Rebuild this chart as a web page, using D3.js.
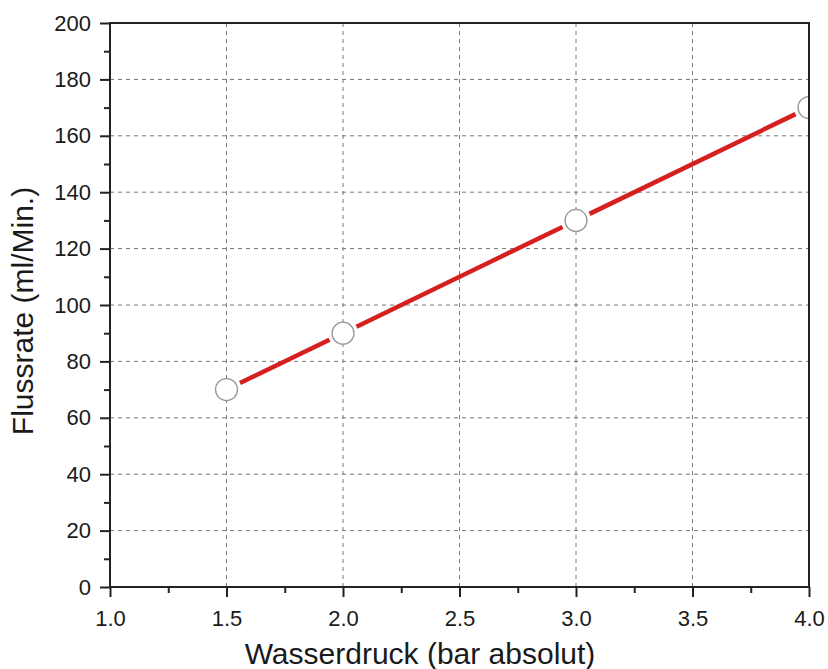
<!DOCTYPE html>
<html>
<head>
<meta charset="utf-8">
<script src="https://cdn.jsdelivr.net/npm/d3@7"></script>
<style>
  body { margin: 0; background: #fff; }
  svg text { font-family: "Liberation Sans", Arial, sans-serif; fill: #1a1a1a; }
</style>
</head>
<body>
<script>
const pressure = [1.5, 2.0, 3.0, 4.0]
const flow = [70, 90, 130, 170]
const xTicks = [1.0, 1.5, 2.0, 2.5, 3.0, 3.5, 4.0]
const yTicks = [0, 20, 40, 60, 80, 100, 120, 140, 160, 180, 200]
const xLabel = "Wasserdruck (bar absolut)"
const yLabel = "Flussrate (ml/Min.)"

const width = 828, height = 669
const margin = { left: 110, right: 19, top: 23, bottom: 82 }

const svg = d3.select("body").append("svg")
    .attr("width", width)
    .attr("height", height)

const x = d3.scaleLinear().domain([1, 4]).range([margin.left, width - margin.right])
const y = d3.scaleLinear().domain([0, 200]).range([height - margin.bottom, margin.top])

svg.append("clipPath").attr("id", "plot")
    .append("rect")
    .attr("x", x(1)).attr("y", y(200))
    .attr("width", x(4) - x(1)).attr("height", y(0) - y(200))

// grid
const grid = svg.append("g")
grid.selectAll("line.gx")
    .data(xTicks.slice(1, -1))
    .enter().append("line")
        .attr("x1", d => x(d)).attr("x2", d => x(d))
        .attr("y1", y(0)).attr("y2", y(200))
        .attr("stroke", "#777").attr("stroke-width", 1)
        .attr("stroke-dasharray", "4,4")
grid.selectAll("line.gy")
    .data(yTicks.slice(1, -1))
    .enter().append("line")
        .attr("y1", d => y(d)).attr("y2", d => y(d))
        .attr("x1", x(1)).attr("x2", x(4))
        .attr("stroke", "#777").attr("stroke-width", 1)
        .attr("stroke-dasharray", "4,4")

// red line, broken around markers
const pts = pressure.map((p, i) => [x(p), y(flow[i])])
const gap = 15
const segs = d3.pairs(pts).map(([a, b]) => {
    const dx = b[0] - a[0], dy = b[1] - a[1]
    const len = Math.hypot(dx, dy)
    const ux = dx / len, uy = dy / len
    return [[a[0] + ux * gap, a[1] + uy * gap], [b[0] - ux * gap, b[1] - uy * gap]]
})
svg.append("g").selectAll("line")
    .data(segs)
    .enter().append("line")
        .attr("x1", d => d[0][0]).attr("y1", d => d[0][1])
        .attr("x2", d => d[1][0]).attr("y2", d => d[1][1])
        .attr("stroke", "#d61f1f").attr("stroke-width", 4.5)

svg.append("g").attr("clip-path", "url(#plot)")
    .selectAll("circle")
    .data(pts)
    .enter().append("circle")
        .attr("cx", d => d[0]).attr("cy", d => d[1])
        .attr("r", 11)
        .attr("fill", "#fff")
        .attr("stroke", "#999").attr("stroke-width", 1.3)

// axes
const xAxis = svg.append("g")
    .attr("transform", `translate(0,${y(0)})`)
    .call(d3.axisBottom(x).tickValues(xTicks).tickFormat(d3.format(".1f")).tickSize(10).tickPadding(13))
const xMinor = svg.append("g")
    .attr("transform", `translate(0,${y(0)})`)
    .call(d3.axisBottom(x).tickValues(d3.range(1.25, 4, 0.5)).tickFormat("").tickSize(6))

const yAxis = svg.append("g")
    .attr("transform", `translate(${x(1)},0)`)
    .call(d3.axisLeft(y).tickValues(yTicks).tickSize(10).tickPadding(9))
const yMinor = svg.append("g")
    .attr("transform", `translate(${x(1)},0)`)
    .call(d3.axisLeft(y).tickValues(d3.range(10, 200, 20)).tickFormat("").tickSize(6))

for (const g of [xAxis, xMinor, yAxis, yMinor]) {
    g.attr("font-size", null).attr("font-family", null)
    g.select(".domain").remove()
    g.selectAll(".tick line").attr("stroke", "#222").attr("stroke-width", 2)
    g.selectAll(".tick text").style("font-size", "22px")
}

// frame
svg.append("rect")
    .attr("x", x(1)).attr("y", y(200))
    .attr("width", x(4) - x(1)).attr("height", y(0) - y(200))
    .attr("fill", "none").attr("stroke", "#222").attr("stroke-width", 2)

svg.append("text")
    .attr("x", 420)
    .attr("y", 664)
    .attr("text-anchor", "middle")
    .attr("font-size", 30)
    .text(xLabel)

svg.append("text")
    .attr("transform", `translate(33,311) rotate(-90)`)
    .attr("text-anchor", "middle")
    .attr("font-size", 30)
    .text(yLabel)
</script>
</body>
</html>
